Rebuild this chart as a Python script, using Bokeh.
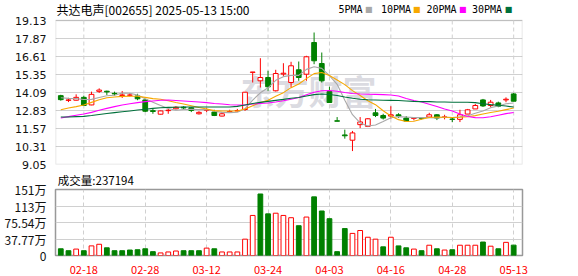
from bokeh.plotting import figure
from bokeh.layouts import column
from bokeh.models import ColumnDataSource, Range1d, FixedTicker, Label, BoxAnnotation
from bokeh.embed import file_html
from bokeh.resources import INLINE

# ---------------- data ----------------
title_text = "共达电声[002655] 2025-05-13 15:00"
volume_title = "成交量:237194"
watermark = "东方财富"

dates = ["02-13", "02-14", "02-17", "02-18", "02-19", "02-20", "02-21", "02-24", "02-25", "02-26",
         "02-27", "02-28", "03-03", "03-04", "03-05", "03-06", "03-07", "03-10", "03-11", "03-12",
         "03-13", "03-14", "03-17", "03-18", "03-19", "03-20", "03-21", "03-24", "03-25", "03-26",
         "03-27", "03-28", "03-31", "04-01", "04-02", "04-03", "04-07", "04-08", "04-09", "04-10",
         "04-11", "04-14", "04-15", "04-16", "04-17", "04-18", "04-21", "04-22", "04-23", "04-24",
         "04-25", "04-28", "04-29", "04-30", "05-06", "05-07", "05-08", "05-09", "05-12", "05-13"]

opens = [13.87, 13.54, 13.55, 13.75, 13.22, 14.17, 14.18, 14.03, 13.88, 13.90,
         13.85, 13.57, 12.82, 12.57, 12.82, 12.95, 13.06, 13.02, 12.60, 12.85,
         12.72, 12.44, 12.72, 12.80, 12.90, 15.50, 14.91, 15.14, 14.21, 15.38,
         14.79, 15.68, 15.37, 17.59, 16.12, 14.16, 12.11, 11.12, 10.75, 11.84,
         11.72, 12.67, 12.48, 12.44, 12.53, 12.30, 12.28, 12.30, 12.37, 12.53,
         12.35, 12.23, 12.21, 12.58, 12.94, 13.57, 13.18, 13.36, 13.57, 13.99]
highs = [13.93, 13.72, 13.96, 13.87, 14.15, 14.38, 14.22, 14.15, 14.19, 14.05,
         14.00, 13.64, 12.94, 12.82, 12.94, 13.13, 13.13, 13.06, 12.78, 12.99,
         12.88, 12.72, 12.88, 12.94, 14.13, 15.53, 16.49, 15.61, 15.68, 16.14,
         16.24, 16.26, 16.66, 18.29, 16.89, 14.49, 12.37, 11.49, 11.40, 12.37,
         12.30, 12.94, 12.60, 13.13, 12.64, 12.44, 12.30, 12.37, 12.67, 12.58,
         12.53, 12.37, 12.88, 12.94, 13.29, 13.64, 13.57, 13.45, 13.75, 14.06]
lows = [13.52, 13.42, 13.53, 13.16, 13.20, 14.06, 13.92, 13.87, 13.71, 13.82,
        13.55, 12.72, 12.60, 12.55, 12.60, 12.90, 12.88, 12.72, 12.55, 12.72,
        12.44, 12.42, 12.67, 12.76, 12.80, 14.79, 14.44, 14.21, 14.16, 15.21,
        14.44, 14.91, 14.91, 16.07, 14.79, 13.39, 12.08, 10.86, 9.99, 11.60,
        11.67, 12.37, 12.20, 12.25, 12.30, 12.09, 12.14, 12.20, 12.30, 12.16,
        12.21, 12.02, 12.02, 12.58, 12.94, 13.08, 13.06, 13.06, 13.41, 13.48]
closes = [13.59, 13.57, 13.75, 13.18, 13.96, 14.26, 14.13, 13.99, 13.92, 13.91,
          13.65, 12.78, 12.76, 12.80, 12.85, 13.06, 13.01, 12.83, 12.70, 12.88,
          12.48, 12.60, 12.76, 12.83, 14.11, 15.52, 15.14, 14.49, 15.42, 15.44,
          15.96, 15.14, 16.59, 16.31, 14.91, 13.39, 12.08, 11.06, 11.26, 12.03,
          12.25, 12.48, 12.30, 12.53, 12.44, 12.09, 12.30, 12.28, 12.53, 12.30,
          12.38, 12.21, 12.53, 12.88, 13.18, 13.15, 13.41, 13.13, 13.62, 13.48]

# volume in 万
volumes = [15.4, 11.0, 14.7, 11.0, 22.0, 25.7, 17.6, 11.0, 11.0, 12.5,
           13.2, 15.4, 8.8, 5.9, 8.1, 10.3, 11.0, 11.0, 11.0, 16.9,
           15.4, 8.1, 8.1, 8.1, 37.4, 91.7, 140.8, 95.3, 96.8, 91.7,
           86.5, 68.2, 88.0, 134.2, 101.9, 84.3, 8.8, 61.6, 50.6, 57.2,
           41.8, 37.4, 19.8, 41.8, 22.0, 17.6, 14.7, 11.0, 23.5, 15.4,
           12.5, 13.2, 23.5, 23.5, 23.5, 30.8, 21.3, 15.4, 30.1, 23.72]
volume_up = [0, 0, 1, 0, 1, 1, 0, 0, 0, 0,
             0, 0, 0, 1, 1, 1, 0, 0, 0, 1,
             0, 1, 1, 1, 1, 1, 0, 0, 1, 1,
             1, 0, 1, 0, 0, 0, 0, 0, 1, 1,
             1, 1, 0, 1, 0, 0, 1, 0, 1, 0,
             1, 0, 1, 1, 1, 0, 1, 0, 1, 0]

ma5 = [13.72, 13.68, 13.66, 13.60, 13.61, 13.74, 13.86, 13.90, 14.05, 14.04,
       13.92, 13.65, 13.41, 13.18, 12.97, 12.85, 12.90, 12.91, 12.89, 12.90,
       12.78, 12.70, 12.68, 12.71, 12.96, 13.56, 14.07, 14.42, 14.94, 15.20,
       15.29, 15.29, 15.71, 15.89, 15.78, 15.27, 14.66, 13.55, 12.54, 11.96,
       11.74, 11.82, 12.06, 12.32, 12.40, 12.37, 12.33, 12.33, 12.33, 12.30,
       12.36, 12.34, 12.39, 12.46, 12.64, 12.79, 13.03, 13.15, 13.30, 13.36]
ma10 = [12.88, 13.00, 13.10, 13.22, 13.40, 13.58, 13.72, 13.78, 13.82, 13.83,
        13.83, 13.75, 13.66, 13.62, 13.51, 13.39, 13.28, 13.16, 13.04, 12.93,
        12.82, 12.80, 12.80, 12.80, 12.93, 13.17, 13.39, 13.55, 13.82, 14.08,
        14.43, 14.68, 15.06, 15.41, 15.49, 15.28, 14.97, 14.64, 14.22, 13.88,
        13.51, 13.24, 12.81, 12.44, 12.19, 12.06, 12.08, 12.22, 12.34, 12.37,
        12.36, 12.34, 12.36, 12.39, 12.47, 12.58, 12.69, 12.78, 12.89, 13.00]
ma20 = [12.30, 12.40, 12.50, 12.58, 12.70, 12.85, 12.98, 13.10, 13.22, 13.30,
        13.38, 13.45, 13.50, 13.55, 13.56, 13.53, 13.50, 13.46, 13.42, 13.38,
        13.32, 13.28, 13.23, 13.21, 13.22, 13.28, 13.33, 13.36, 13.43, 13.51,
        13.62, 13.74, 13.93, 14.11, 14.21, 14.23, 14.18, 14.09, 14.02, 13.98,
        13.97, 13.96, 13.94, 13.92, 13.84, 13.67, 13.53, 13.42, 13.27, 13.11,
        12.94, 12.79, 12.59, 12.41, 12.33, 12.32, 12.39, 12.50, 12.61, 12.69]
ma30 = [12.37, 12.38, 12.40, 12.42, 12.48, 12.55, 12.62, 12.68, 12.74, 12.80,
        12.86, 12.92, 12.98, 13.02, 13.05, 13.06, 13.07, 13.07, 13.07, 13.07,
        13.07, 13.07, 13.08, 13.12, 13.22, 13.32, 13.40, 13.47, 13.54, 13.61,
        13.69, 13.74, 13.84, 13.94, 13.98, 13.95, 13.88, 13.78, 13.69, 13.62,
        13.58, 13.57, 13.55, 13.54, 13.53, 13.50, 13.47, 13.45, 13.45, 13.43,
        13.43, 13.41, 13.41, 13.41, 13.38, 13.30, 13.24, 13.20, 13.14, 13.07]

ma_names = ["5PMA", "10PMA", "20PMA", "30PMA"]
ma_colors = ["#a8a8a8", "#f7a800", "#ff00ff", "#00703c"]

price_tick_labels = ["9.05", "10.31", "11.57", "12.83", "14.09", "15.35", "16.61", "17.87", "19.13"]
volume_ticks = [0, 37.77, 75.54, 113.31, 151.08]
volume_tick_labels = ["0", "37.77万", "75.54万", "113万", "151万"]
date_tick_labels = ["02-18", "02-28", "03-12", "03-24", "04-03", "04-16", "04-28", "05-13"]

# ---------------- styling ----------------
RED = "#ff0000"
GREEN = "#008000"
FRAME = "#999999"
GRID = "#d0d0d0"
W = 578
HEADER_PX = 20            # band above the price box (inside the price frame), px
PRICE_BOX_PX = 144        # price box height, px

n = len(dates)
xs = list(range(n))
price_ticks = [float(s) for s in price_tick_labels]
date_tick_idx = [dates.index(d) for d in date_tick_labels]
up = [c >= o for o, c in zip(opens, closes)]

candles = ColumnDataSource(dict(
    x=xs, high=highs, low=lows,
    top=[max(o, c) for o, c in zip(opens, closes)],
    bottom=[min(o, c) for o, c in zip(opens, closes)],
    line=[RED if u else GREEN for u in up],
    fill=["#ffffff" if u else GREEN for u in up],
))
vols = ColumnDataSource(dict(
    x=xs, top=volumes,
    line=[RED if u else GREEN for u in volume_up],
    fill=["#ffffff" if u else GREEN for u in volume_up],
))

x_range = Range1d(-0.69, 60.15)

p_lo, p_hi = price_ticks[0], price_ticks[-1]
p_top = p_hi + (p_hi - p_lo) * HEADER_PX / PRICE_BOX_PX
ng = len(date_tick_idx)

# ---------------- price panel ----------------
p1 = figure(width=W, height=171, x_range=x_range, y_range=Range1d(p_lo, p_top),
            x_axis_location=None, output_backend="svg", toolbar_location=None,
            min_border_left=55, min_border_right=56, min_border_top=0, min_border_bottom=7,
            background_fill_color="white", border_fill_color="white",
            outline_line_color=None, title_location=None)

p1.yaxis.ticker = FixedTicker(ticks=price_ticks)
p1.yaxis.major_label_overrides = dict(zip(price_ticks, price_tick_labels))
p1.yaxis.axis_line_color = None
p1.yaxis.major_tick_line_color = None
p1.yaxis.minor_tick_line_color = None
p1.yaxis.major_label_standoff = 3
p1.yaxis.major_label_text_font = "DejaVu Sans"
p1.yaxis.major_label_text_font_size = "11px"
p1.yaxis.major_label_text_color = "#111111"
p1.ygrid.grid_line_color = GRID
p1.xgrid.visible = False

p1.segment(x0=date_tick_idx, y0=[p_lo] * ng, x1=date_tick_idx, y1=[p_hi] * ng,
           line_color=GRID, line_dash="4 3", line_width=1)
p1.add_layout(BoxAnnotation(bottom=p_lo, top=p_hi, fill_color=None, fill_alpha=0,
                            line_color=FRAME, line_width=1.5, level="underlay"))

p1.add_layout(Label(x=185, y=74, x_units="screen", y_units="screen", text=watermark,
                    text_font="Noto Sans CJK SC", text_font_size="34px", text_font_style="bold",
                    text_color="#cfcfd8", text_alpha=0.75, text_baseline="middle", level="underlay"))

p1.segment(x0="x", y0="low", x1="x", y1="high", source=candles, line_color="line", line_width=1)
p1.vbar(x="x", width=0.62, top="top", bottom="bottom", source=candles,
        fill_color="fill", line_color="line", line_width=1)

for vals, col in zip([ma5, ma10, ma20, ma30], ma_colors):
    p1.line(xs, vals, line_color=col, line_width=1.1)

head_y = PRICE_BOX_PX + HEADER_PX - 9.0
p1.add_layout(Label(x=1, y=head_y, x_units="screen", y_units="screen", text=title_text,
                    text_font="Noto Sans CJK SC", text_font_size="12px",
                    text_color="#000000", text_baseline="middle"))
legend_text_x = [283, 325.5, 371, 416.5]
legend_mark_x = [309.5, 357.5, 403.5, 449.2]
for name, col, tx, mx in zip(ma_names, ma_colors, legend_text_x, legend_mark_x):
    p1.add_layout(Label(x=tx, y=head_y, x_units="screen", y_units="screen", text=name,
                        text_font="DejaVu Sans Mono", text_font_size="10px",
                        text_color="#000000", text_baseline="middle"))
    p1.add_layout(Label(x=mx, y=head_y, x_units="screen", y_units="screen", text="■",
                        text_font="DejaVu Sans", text_font_size="8px",
                        text_color=col, text_baseline="middle"))

# ---------------- volume panel ----------------
p2 = figure(width=W, height=105, x_range=x_range,
            y_range=Range1d(volume_ticks[0], volume_ticks[-1]),
            output_backend="svg", toolbar_location=None,
            min_border_left=55, min_border_right=56, min_border_top=0, min_border_bottom=21,
            background_fill_color="white", border_fill_color="white",
            outline_line_color=FRAME, outline_line_width=1.5)
p2.title.text = volume_title
p2.title.align = "left"
p2.title.vertical_align = "top"
p2.title.offset = 2.3
p2.title.standoff = 0
p2.title.text_font = "Noto Sans CJK SC"
p2.title.text_font_size = "11.5px"
p2.title.text_font_style = "normal"
p2.title.text_color = "#000000"

p2.yaxis.ticker = FixedTicker(ticks=volume_ticks)
p2.yaxis.major_label_overrides = dict(zip(volume_ticks, volume_tick_labels))
p2.yaxis.axis_line_color = None
p2.yaxis.major_tick_line_color = None
p2.yaxis.minor_tick_line_color = None
p2.yaxis.major_label_standoff = 3
p2.yaxis.major_label_text_font = "Noto Sans CJK SC"
p2.yaxis.major_label_text_font_size = "12px"
p2.yaxis.major_label_text_color = "#111111"
p2.ygrid.grid_line_color = GRID

p2.xaxis.ticker = FixedTicker(ticks=date_tick_idx)
p2.xaxis.major_label_overrides = dict(zip(date_tick_idx, date_tick_labels))
p2.xaxis.axis_line_color = None
p2.xaxis.major_tick_line_color = None
p2.xaxis.minor_tick_line_color = None
p2.xaxis.major_label_standoff = 4
p2.xaxis.major_label_text_font = "Noto Sans CJK SC"
p2.xaxis.major_label_text_font_size = "11px"
p2.xaxis.major_label_text_color = RED
p2.xgrid.ticker = FixedTicker(ticks=date_tick_idx)
p2.xgrid.grid_line_color = GRID
p2.xgrid.grid_line_dash = "4 3"

p2.vbar(x="x", width=0.62, top="top", bottom=0, source=vols,
        fill_color="fill", line_color="line", line_width=1)

layout = column(p1, p2, spacing=0)
open("out.html", "w").write(file_html(layout, INLINE))
